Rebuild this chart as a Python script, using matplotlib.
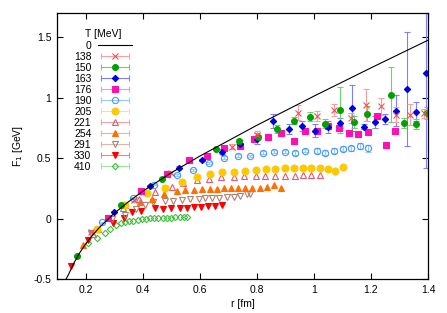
import matplotlib
matplotlib.use("Agg")
import matplotlib.pyplot as plt
from matplotlib.lines import Line2D
from matplotlib.legend_handler import HandlerLine2D, HandlerTuple

plt.rcParams['font.family'] = ['Liberation Sans', 'DejaVu Sans']

# T = 0 reference curve
r0 = [0.125, 0.14, 0.16, 0.18, 0.2, 0.225, 0.25, 0.3, 0.35, 0.4, 0.5, 0.6, 0.8, 1.0, 1.2, 1.4]
F0 = [-0.53, -0.464, -0.365, -0.282, -0.212, -0.137, -0.070, 0.043, 0.138, 0.225, 0.378, 0.516, 0.771, 1.012, 1.246, 1.475]

r138 = [0.22, 0.37, 0.50, 0.713, 0.80, 0.943, 1.011, 1.07, 1.13, 1.184, 1.236, 1.289, 1.336, 1.385]
F138 = [-0.11, 0.15, 0.38, 0.595, 0.69, 0.876, 0.85, 0.898, 0.83, 0.94, 0.93, 0.86, 0.86, 0.87]
e138 = [0.005, 0.01, 0.01, 0.02, 0.03, 0.06, 0.04, 0.05, 0.04, 0.13, 0.07, 0.06, 0.09, 0.04]

r150 = [0.17, 0.325, 0.467, 0.658, 0.736, 0.806, 0.871, 0.932, 0.988, 1.04, 1.09, 1.14, 1.187, 1.272, 1.317, 1.359, 1.397]
F150 = [-0.31, 0.11, 0.326, 0.575, 0.64, 0.675, 0.74, 0.81, 0.843, 0.785, 0.90, 0.795, 0.868, 1.025, 0.793, 0.78, 0.876]
e150 = [0.005, 0.005, 0.01, 0.01, 0.02, 0.02, 0.03, 0.03, 0.04, 0.04, 0.19, 0.05, 0.06, 0.23, 0.04, 0.04, 0.05]

r163 = [0.301, 0.425, 0.526, 0.608, 0.678, 0.74, 0.801, 0.857, 0.912, 0.959, 1.005, 1.048, 1.093, 1.134, 1.175, 1.213, 1.251, 1.289, 1.325, 1.359, 1.392]
F163 = [0.058, 0.27, 0.421, 0.485, 0.554, 0.62, 0.66, 0.807, 0.739, 0.766, 0.728, 0.76, 0.788, 0.912, 0.76, 0.80, 0.822, 0.893, 1.072, 0.884, 1.20]
e163 = [0.005, 0.01, 0.01, 0.01, 0.02, 0.03, 0.045, 0.055, 0.04, 0.04, 0.05, 0.05, 0.04, 0.19, 0.02, 0.05, 0.04, 0.13, 0.47, 0.08, 0.78]

r176 = [0.278, 0.394, 0.485, 0.561, 0.625, 0.686, 0.742, 0.791, 0.841, 0.886, 0.929, 0.970, 1.011, 1.048, 1.087, 1.122, 1.155, 1.19, 1.222, 1.254, 1.285]
F176 = [0.008, 0.229, 0.369, 0.488, 0.518, 0.586, 0.603, 0.656, 0.678, 0.711, 0.645, 0.725, 0.725, 0.766, 0.747, 0.711, 0.70, 0.719, 0.849, 0.612, 0.725]

r190 = [0.258, 0.368, 0.441, 0.52, 0.578, 0.631, 0.686, 0.733, 0.777, 0.822, 0.861, 0.9, 0.935, 0.97, 1.011, 1.038, 1.07, 1.101, 1.13, 1.16, 1.19]
F190 = [-0.03, 0.168, 0.279, 0.361, 0.402, 0.458, 0.504, 0.521, 0.518, 0.545, 0.551, 0.554, 0.54, 0.562, 0.562, 0.545, 0.562, 0.576, 0.582, 0.60, 0.582]
e190 = [0.003, 0.005, 0.005, 0.008, 0.008, 0.01, 0.01, 0.01, 0.01, 0.012, 0.012, 0.015, 0.015, 0.015, 0.018, 0.018, 0.02, 0.02, 0.02, 0.025, 0.03]

r205 = [0.24, 0.34, 0.416, 0.479, 0.537, 0.59, 0.637, 0.678, 0.719, 0.76, 0.798, 0.833, 0.865, 0.90, 0.932, 0.962, 0.99, 1.02, 1.048, 1.075, 1.102]
F205 = [-0.085, 0.11, 0.215, 0.251, 0.30, 0.342, 0.369, 0.383, 0.389, 0.397, 0.402, 0.408, 0.411, 0.414, 0.414, 0.416, 0.416, 0.416, 0.411, 0.397, 0.43]

r221 = [0.225, 0.33, 0.387, 0.445, 0.502, 0.543, 0.59, 0.634, 0.675, 0.719, 0.756, 0.798, 0.83, 0.865, 0.90, 0.935, 0.962, 0.99, 1.02]
F221 = [-0.13, 0.09, 0.165, 0.22, 0.26, 0.293, 0.32, 0.328, 0.342, 0.347, 0.353, 0.355, 0.355, 0.355, 0.355, 0.356, 0.358, 0.36, 0.36]

r254 = [0.191, 0.243, 0.337, 0.39, 0.433, 0.475, 0.52, 0.55, 0.58, 0.608, 0.635, 0.66, 0.685, 0.71, 0.735, 0.76, 0.785, 0.81, 0.835, 0.86, 0.885]
F254 = [-0.217, -0.085, 0.113, 0.14, 0.16, 0.2, 0.225, 0.235, 0.24, 0.243, 0.245, 0.248, 0.25, 0.25, 0.252, 0.255, 0.255, 0.25, 0.257, 0.275, 0.255]

r291 = [0.22, 0.292, 0.34, 0.378, 0.41, 0.438, 0.479, 0.508, 0.537, 0.567, 0.596, 0.619, 0.643, 0.666, 0.695, 0.719, 0.742, 0.766, 0.777]
F291 = [-0.12, -0.003, 0.033, 0.078, 0.11, 0.135, 0.141, 0.149, 0.155, 0.16, 0.163, 0.166, 0.168, 0.172, 0.177, 0.182, 0.188, 0.2, 0.204]

r330 = [0.149, 0.209, 0.296, 0.334, 0.362, 0.395, 0.445, 0.47, 0.5, 0.53, 0.555, 0.58, 0.605, 0.63, 0.655, 0.678]
F330 = [-0.389, -0.176, -0.038, 0.005, 0.058, 0.064, 0.086, 0.082, 0.085, 0.088, 0.09, 0.095, 0.098, 0.1, 0.102, 0.113]

r410 = [0.17, 0.209, 0.241, 0.268, 0.287, 0.308, 0.325, 0.34, 0.353, 0.367, 0.383, 0.398, 0.413, 0.427, 0.44, 0.455, 0.47, 0.485, 0.5, 0.515, 0.53, 0.545, 0.556]
F410 = [-0.308, -0.2, -0.157, -0.116, -0.083, -0.052, -0.033, -0.025, -0.022, -0.019, -0.01, -0.005, 0.0, 0.003, 0.005, 0.006, 0.007, 0.008, 0.008, 0.009, 0.01, 0.01, 0.012]

labels = ['138', '150', '163', '176', '190', '205', '221', '254', '291', '330', '410']

fig = plt.figure(figsize=(4.47, 3.13), dpi=100)
ax = fig.add_axes([57/447, 1 - 279/313, 371/447, 266/313])

# (label, r, F, err, marker, color, ecolor, filled, ms)
series = [
    ('410', r410, F410, None, 'D', '#40c040', '#a0e0a0', False, 3.2),
    ('330', r330, F330, None, 'v', '#ff0000', '#ff8080', True, 4.0),
    ('291', r291, F291, None, 'v', '#b08070', '#d8b8a8', False, 4.0),
    ('254', r254, F254, None, '^', '#ff7000', '#ffb080', True, 4.0),
    ('221', r221, F221, None, '^', '#e05a70', '#f0a0b0', False, 4.0),
    ('205', r205, F205, None, 'o', '#ffc800', '#ffe080', True, 5.0),
    ('190', r190, F190, e190, 'o', '#4499ff', '#99c8ff', False, 4.5),
    ('176', r176, F176, None, 's', '#ff10b0', '#ff90d8', True, 5.0),
    ('163', r163, F163, e163, 'D', '#0000e0', '#8080ff', True, 3.2),
    ('150', r150, F150, e150, 'o', '#00a000', '#70d070', True, 4.2),
    ('138', r138, F138, e138, 'x', '#f05050', '#f8a0a0', True, 4.5),
]

style = {}
for lab, r, F, e, m, c, ec, filled, ms in series:
    mfc = c if filled else 'none'
    ax.errorbar(r, F, yerr=e, fmt=m, color=c, mfc=mfc, mec=c, ms=ms, mew=0.8,
                ecolor=ec, elinewidth=0.8, capsize=2, capthick=0.8, zorder=2)
    style[lab] = (m, c, ec, mfc, ms)

ax.plot(r0, F0, color='black', lw=0.8, zorder=3)

# legend
hm = {}
handles = [Line2D([], [], color='black', lw=0.8)]
for lab in labels:
    m, c, ec, mfc, ms = style[lab]
    cap = Line2D([], [], color=ec, lw=0.8, marker='|', ms=4, mew=0.8)
    mk = Line2D([], [], ls='none', marker=m, color=c, mfc=mfc, mec=c, ms=ms, mew=0.8)
    hm[cap] = HandlerLine2D(numpoints=2)
    hm[mk] = HandlerLine2D(numpoints=1)
    handles.append((cap, mk))
hm[tuple] = HandlerTuple(ndivide=1)
leg = ax.legend(handles, ['0'] + labels, handler_map=hm, title='T [MeV]',
                markerfirst=False, frameon=False, loc='upper left',
                bbox_to_anchor=(0.045, 0.938), handlelength=3.3, handletextpad=0.6,
                fontsize=7.5, title_fontsize=7.5, labelspacing=0.1, borderpad=0,
                borderaxespad=0)

ax.set_xlim(0.1, 1.4)
ax.set_ylim(-0.5, 1.7)
ax.set_xticks([0.2, 0.4, 0.6, 0.8, 1.0, 1.2, 1.4])
ax.set_xticklabels(['0.2', '0.4', '0.6', '0.8', '1', '1.2', '1.4'])
ax.set_yticks([-0.5, 0, 0.5, 1, 1.5])
ax.set_yticklabels(['-0.5', '0', '0.5', '1', '1.5'])
ax.tick_params(direction='in', top=True, right=True, length=4, width=0.8, labelsize=7.5, pad=4)
for s in ax.spines.values():
    s.set_linewidth(0.9)
ax.set_xlabel('r [fm]', fontsize=7.5, labelpad=3)
ax.set_ylabel('F$_1$ [GeV]', fontsize=7.5, labelpad=6)

fig.savefig('out.png', dpi=100)
